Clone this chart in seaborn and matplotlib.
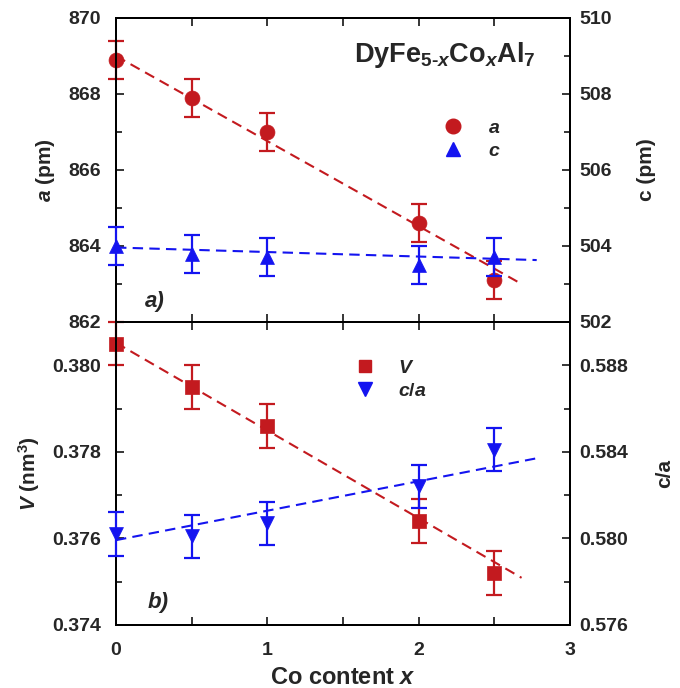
import numpy as np
import matplotlib
matplotlib.use("Agg")
import matplotlib.pyplot as plt
import seaborn as sns
import pandas as pd
from matplotlib.lines import Line2D
from matplotlib.ticker import MultipleLocator, FormatStrFormatter

# ---------------- data ----------------
co_x = [0.0, 0.5, 1.0, 2.0, 2.5]
a_pm = [868.9, 867.9, 867.0, 864.6, 863.1]
a_err = [0.5, 0.5, 0.5, 0.5, 0.5]
c_pm = [504.0, 503.8, 503.7, 503.5, 503.7]
c_err = [0.5, 0.5, 0.5, 0.5, 0.5]
V_nm3 = [0.3805, 0.3795, 0.3786, 0.3764, 0.3752]
V_err = [0.0005, 0.0005, 0.0005, 0.0005, 0.0005]
c_over_a = [0.5802, 0.5801, 0.5807, 0.5824, 0.5841]
ca_err = [0.001, 0.001, 0.001, 0.001, 0.001]

# linear fit lines (end points)
a_fit_x = [0.0, 2.68]
a_fit_y = [869.0, 863.0]
c_fit_x = [0.0, 2.78]
c_fit_y = [503.96, 503.63]
V_fit_x = [0.0, 2.68]
V_fit_y = [0.38052, 0.37509]
ca_fit_x = [0.0, 2.77]
ca_fit_y = [0.57992, 0.58369]

RED = "#C31A1F"
BLUE = "#1414F0"

# ---------------- style ----------------
sns.set_style("ticks")
plt.rcParams.update({
    "font.family": ["Liberation Sans", "DejaVu Sans"],
    "font.weight": "bold",
    "axes.labelweight": "bold",
    "mathtext.fontset": "custom",
    "mathtext.rm": "Liberation Sans:bold",
    "mathtext.it": "Liberation Sans:bold:italic",
    "mathtext.bf": "Liberation Sans:bold",
    "axes.linewidth": 1.4,
    "axes.edgecolor": "black",
})

FS = 14
LFS = 15
W, H = 680, 688
fig = plt.figure(figsize=(W / 100, H / 100), dpi=100)
L, R = 116, 570
ax1 = fig.add_axes([L / W, 1 - 322 / H, (R - L) / W, (322 - 18) / H])
ax2 = fig.add_axes([L / W, 1 - 625 / H, (R - L) / W, (625 - 322) / H])
ax1r = ax1.twinx()
ax2r = ax2.twinx()

df = pd.DataFrame({"x": co_x, "a": a_pm, "c": c_pm, "V": V_nm3, "ca": c_over_a})


def series(ax, ycol, err, fx, fy, color, marker, s):
    eb = ax.errorbar(df["x"], df[ycol], yerr=err, fmt="none", ecolor=color,
                     elinewidth=1.6, capsize=6, capthick=1.6, zorder=3)
    for art in eb.lines[1] + eb.lines[2]:
        art.set_clip_on(False)
    sns.lineplot(x=fx, y=fy, ax=ax, color=color, lw=1.5,
                 linestyle=(0, (5, 3)), zorder=2)
    sns.scatterplot(data=df, x="x", y=ycol, ax=ax, color=color, marker=marker,
                    s=s, edgecolor=color, linewidth=0.5, zorder=4, clip_on=False)


series(ax1, "a", a_err, a_fit_x, a_fit_y, RED, "o", 115)
series(ax1r, "c", c_err, c_fit_x, c_fit_y, BLUE, "^", 100)
series(ax2, "V", V_err, V_fit_x, V_fit_y, RED, "s", 88)
series(ax2r, "ca", ca_err, ca_fit_x, ca_fit_y, BLUE, "v", 100)

# ---------------- axes ----------------
for ax in (ax1, ax2):
    ax.set_xlim(0, 3)
    ax.xaxis.set_major_locator(MultipleLocator(1))
    ax.xaxis.set_minor_locator(MultipleLocator(0.5))
    ax.tick_params(axis="x", which="both", direction="in", top=True, bottom=True,
                   width=1.3, labelsize=FS, pad=12, length=6)
    ax.tick_params(axis="y", which="both", direction="in", left=True, right=False,
                   width=1.3, labelsize=FS, pad=11)
    ax.tick_params(axis="y", which="major", length=6)
    ax.tick_params(axis="y", which="minor", length=4)
for ax in (ax1r, ax2r):
    ax.tick_params(axis="y", which="both", direction="in", left=False, right=True,
                   width=1.3, labelsize=FS, pad=7)
    ax.tick_params(axis="y", which="major", length=6)
    ax.tick_params(axis="y", which="minor", length=4)

ax1.tick_params(axis="x", labelbottom=False)

ax1.set_ylim(862, 870)
ax1.yaxis.set_major_locator(MultipleLocator(2))
ax1.yaxis.set_minor_locator(MultipleLocator(1))
ax1r.set_ylim(502, 510)
ax1r.yaxis.set_major_locator(MultipleLocator(2))
ax1r.yaxis.set_minor_locator(MultipleLocator(1))

ax2.set_ylim(0.374, 0.381)
ax2.yaxis.set_major_locator(MultipleLocator(0.002))
ax2.yaxis.set_minor_locator(MultipleLocator(0.001))
ax2.yaxis.set_major_formatter(FormatStrFormatter("%.3f"))
ax2r.set_ylim(0.576, 0.590)
ax2r.yaxis.set_major_locator(MultipleLocator(0.004))
ax2r.yaxis.set_minor_locator(MultipleLocator(0.002))
ax2r.yaxis.set_major_formatter(FormatStrFormatter("%.3f"))

for ax in (ax1, ax1r, ax2, ax2r):
    for sp in ax.spines.values():
        sp.set_linewidth(1.4)
        sp.set_color("black")

ax1.set_xlabel("")
ax1r.set_xlabel("")
ax2r.set_xlabel("")
ax1.set_ylabel(r"$a$ (pm)", fontsize=LFS)
ax1r.set_ylabel("c (pm)", fontsize=LFS)
ax2.set_ylabel(r"$V$ (nm$^3$)", fontsize=LFS)
ax2r.set_ylabel("c/a", fontsize=LFS)
ax2.set_xlabel(r"Co content $x$", fontsize=17)

ax1.yaxis.set_label_coords((57 - L) / (R - L), 0.5)
ax2.yaxis.set_label_coords((42 - L) / (R - L), 0.5)
ax1r.yaxis.set_label_coords((637 - L) / (R - L), 0.5)
ax2r.yaxis.set_label_coords((655 - L) / (R - L), 0.5)
ax2.xaxis.set_label_coords(0.5, (625 - 666) / 303)

# ---------------- texts ----------------
ax1r.text((536 - L) / (R - L), 1 - (62 - 18) / 304,
          r"DyFe$_{5\text{-}x}$Co$_{x}$Al$_{7}$", transform=ax1r.transAxes,
          ha="right", va="baseline", fontsize=19.5, fontweight="bold")
ax1r.text((145 - L) / (R - L), 1 - (307 - 18) / 304, "a)",
          transform=ax1r.transAxes, ha="left", va="baseline", fontsize=16,
          fontstyle="italic", fontweight="bold")
ax2r.text((148 - L) / (R - L), 1 - (608 - 322) / 303, "b)",
          transform=ax2r.transAxes, ha="left", va="baseline", fontsize=16,
          fontstyle="italic", fontweight="bold")

# ---------------- legends ----------------
h_a = Line2D([], [], ls="", marker="o", ms=10.5, color=RED)
h_c = Line2D([], [], ls="", marker="^", ms=10, color=BLUE)
ax1r.legend([h_a, h_c], [r"$a$", r"$c$"], loc="upper left",
            bbox_to_anchor=((443 - L) / (R - L), 1 - (119 - 18) / 304),
            frameon=False, fontsize=FS, borderpad=0, borderaxespad=0,
            handlelength=1.0, handletextpad=1.3, labelspacing=0.3)
h_V = Line2D([], [], ls="", marker="s", ms=9.3, color=RED)
h_ca = Line2D([], [], ls="", marker="v", ms=10, color=BLUE)
ax2r.legend([h_V, h_ca], [r"$V$", r"$c/a$"], loc="upper left",
            bbox_to_anchor=((355 - L) / (R - L), 1 - (359 - 322) / 303),
            frameon=False, fontsize=FS, borderpad=0, borderaxespad=0,
            handlelength=1.0, handletextpad=1.2, labelspacing=0.3)

fig.savefig("out.png", dpi=100)
